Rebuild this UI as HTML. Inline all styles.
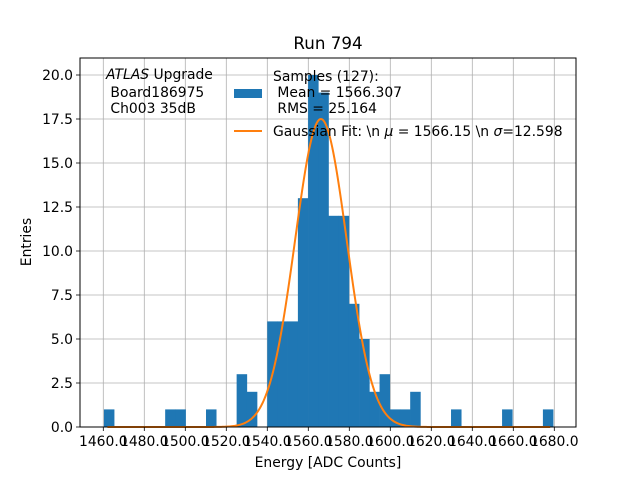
<!DOCTYPE html>
<html><head><meta charset="utf-8"><style>
body{margin:0;background:#fff}
svg text{font-family:"DejaVu Sans","Liberation Sans",sans-serif;fill:#000;white-space:pre}
</style></head><body>
<svg id="chart" width="640" height="480" viewBox="0 0 640 480" xmlns="http://www.w3.org/2000/svg">
<rect width="640" height="480" fill="#fff"/>
<g id="grid"></g>
<g id="bars"></g>
<g id="curve"></g>
<rect x="80" y="58" width="496" height="369" fill="none" stroke="#000" stroke-width="1"/>
<g id="ticks"></g>
<text x="328" y="49" font-size="16.7" text-anchor="middle">Run 794</text>
<text x="328" y="467" font-size="13.9" text-anchor="middle">Energy [ADC Counts]</text>
<text x="31" y="242" font-size="13.9" text-anchor="middle" transform="rotate(-90 31 242)">Entries</text>
<g font-size="13.9">
<text x="106" y="79"><tspan font-style="italic">ATLAS</tspan> Upgrade</text>
<text x="106" y="97"> Board186975</text>
<text x="106" y="113"> Ch003 35dB</text>
</g>
<g font-size="13.9">
<rect x="234" y="89" width="28" height="9" fill="#1f77b4"/>
<text x="273" y="81">Samples (127):</text>
<text x="273" y="97"> Mean = 1566.307</text>
<text x="273" y="113"> RMS = 25.164</text>
<line x1="234" y1="131" x2="262" y2="131" stroke="#ff7f0e" stroke-width="2"/>
<text x="273" y="136">Gaussian Fit: \n <tspan font-style="italic">μ</tspan> = 1566.15 \n <tspan font-style="italic">σ</tspan>=12.598</text>
</g>
</svg>
<script>
const binStart = 1460.3;
const binWidth = 4.98;
const counts = [1,0,0,0,0,0,1,1,0,0,1,0,0,3,2,0,6,6,6,13,20,19,12,12,7,5,2,3,1,1,2,0,0,0,1,0,0,0,0,1,0,0,0,1];
const xTicks = [1460,1480,1500,1520,1540,1560,1580,1600,1620,1640,1660,1680];
const yTicks = [0,2.5,5,7.5,10,12.5,15,17.5,20];
const fitMu = 1566.15;
const fitSigma = 12.598;
const fitAmp = 17.5;
const fitRange = [1462, 1678];

const NS="http://www.w3.org/2000/svg";
const X = v => 103.3 + (v-1460)*2.05;
const Y = v => 427 - v*17.6;
function mk(tag, attrs, parent){const e=document.createElementNS(NS,tag);for(const k in attrs)e.setAttribute(k,attrs[k]);parent.appendChild(e);return e;}
const grid=document.getElementById('grid'), bars=document.getElementById('bars'), ticks=document.getElementById('ticks'), curve=document.getElementById('curve');
xTicks.forEach(t=>{
  const g=mk('line',{x1:X(t),x2:X(t),y1:58,y2:427,stroke:'#b0b0b0','stroke-width':0.8},grid);
  
  
  mk('line',{x1:X(t),x2:X(t),y1:427,y2:431,stroke:'#000','stroke-width':0.8},ticks);
  const tx=mk('text',{x:X(t),y:446,'font-size':13.9,'text-anchor':'middle'},ticks);
  tx.textContent=t.toFixed(1);
  
  
});
yTicks.forEach(t=>{
  const g=mk('line',{x1:80,x2:576,y1:Y(t),y2:Y(t),stroke:'#b0b0b0','stroke-width':0.8},grid);
  
  
  mk('line',{x1:76,x2:80,y1:Y(t),y2:Y(t),stroke:'#000','stroke-width':0.8},ticks);
  const tx=mk('text',{x:73,y:Y(t)+5,'font-size':13.9,'text-anchor':'end'},ticks);
  tx.textContent=t.toFixed(1);
  
  
});
counts.forEach((c,i)=>{
  if(!c) return;
  const x0=X(binStart+i*binWidth), x1=X(binStart+(i+1)*binWidth);
  const r=mk('rect',{x:x0,y:Y(c),width:x1-x0+0.3,height:Y(0)-Y(c),fill:'#1f77b4'},bars);
  
  
});
let d='';
for(let i=0;i<=400;i++){
  const v=fitRange[0]+(fitRange[1]-fitRange[0])*i/400;
  const y=fitAmp*Math.exp(-0.5*Math.pow((v-fitMu)/fitSigma,2));
  d+=(i?'L':'M')+X(v).toFixed(2)+','+Y(y).toFixed(2);
}
const p=mk('path',{d:d,fill:'none',stroke:'#ff7f0e','stroke-width':2},curve);


</script>
</body></html>
